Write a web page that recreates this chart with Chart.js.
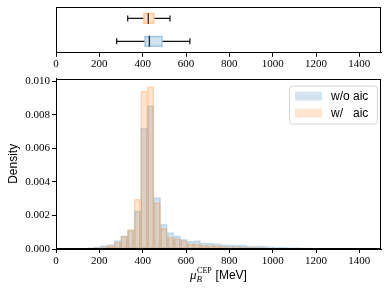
<!DOCTYPE html>
<html>
<head>
<meta charset="utf-8">
<script src="https://cdn.jsdelivr.net/npm/chart.js@4"></script>
<style>
  body { margin: 0; background: #fff; }
  #top { position: absolute; left: 0; top: 0; }
  #bottom { position: absolute; left: 0; top: 70px; }
</style>
</head>
<body>
<canvas id="top" width="388" height="72"></canvas>
<canvas id="bottom" width="388" height="221"></canvas>
<script>
// histogram bins (centres, MeV) and densities
var binCenters = [68.4, 99.1, 129.8, 160.5, 191.2, 221.9, 252.6, 283.3, 314.0, 344.7,
  375.4, 406.1, 436.8, 467.5, 498.2, 528.9, 559.6, 590.3, 621.0, 651.7,
  682.4, 713.1, 743.8, 774.5, 805.2, 835.9, 866.6, 897.3, 928.0, 958.7,
  989.4, 1020.1, 1050.8, 1081.5, 1112.2, 1142.9, 1173.6, 1204.3, 1235.0, 1265.7,
  1296.4, 1327.1, 1357.8, 1388.5, 1419.2, 1449.9];
var densWithout = [0.000005, 0.00001, 0.00003, 0.00008, 0.00013, 0.00021, 0.00027, 0.0005, 0.00078, 0.0011,
  0.00227, 0.00721, 0.00855, 0.00306, 0.00147, 0.00098, 0.00078, 0.00058, 0.00045, 0.0005,
  0.00037, 0.00035, 0.00033, 0.00027, 0.00025, 0.00023, 0.00023, 0.00017, 0.00017, 0.00017,
  0.00014, 0.00012, 0.0001, 0.00009, 0.00008, 0.00007, 0.00006, 0.00006, 0.00005, 0.00005,
  0.00004, 0.00004, 0.00003, 0.00003, 0.00002, 0.00002];
var densWith = [0.000003, 0.000008, 0.00002, 0.00005, 0.00008, 0.00014, 0.00021, 0.0004, 0.00077, 0.00117,
  0.00297, 0.00942, 0.00967, 0.00277, 0.00123, 0.0007, 0.00062, 0.0005, 0.00031, 0.00031,
  0.00023, 0.00021, 0.0002, 0.00016, 0.00014, 0.00014, 0.0001, 0.0001, 0.0001, 0.00008,
  0.00006, 0.00005, 0.00005, 0.00004, 0.00004, 0.00003, 0.00003, 0.00003, 0.00002, 0.00002,
  0.00002, 0.00002, 0.00001, 0.00001, 0.00001, 0.00001];
var xTicks = [0, 200, 400, 600, 800, 1000, 1200, 1400];
var yTicks = [0, 0.002, 0.004, 0.006, 0.008, 0.010];

// box plot summary (top = w/, bottom = w/o)
var boxLabels = ['w/ aic', 'w/o aic'];
var boxLow = [331, 280];
var boxQ1 = [403, 408];
var boxMed = [426, 431];
var boxQ3 = [454, 492];
var boxHigh = [526, 618];

var blueFill = 'rgba(31,119,180,0.2)', blueEdge = 'rgba(31,119,180,0.22)';
var orangeFill = 'rgba(255,127,14,0.2)', orangeEdge = 'rgba(255,127,14,0.25)';
var serif = 'Liberation Serif', sans = 'Liberation Sans';

Chart.defaults.font.family = serif;
Chart.defaults.font.size = 11;
Chart.defaults.color = '#000';

var frame = {
  id: 'frame',
  afterDatasetsDraw: function(chart) {
    var a = chart.chartArea, c = chart.ctx;
    c.save();
    c.strokeStyle = '#000';
    c.lineWidth = 1;
    c.strokeRect(Math.round(a.left) + 0.5, Math.round(a.top) + 0.5,
      Math.round(a.right - a.left) - 1, Math.round(a.bottom - a.top) - 1);
    c.restore();
  }
};

function setTicks(list) {
  return function(scale) { scale.ticks = list.map(function(v) { return {value: v}; }); };
}
function plain(v) { return String(v); }

// ---- top: box plots ----
var topSets = [{
  type: 'bar',
  data: boxQ1.map(function(q, i) { return [q, boxQ3[i]]; }),
  backgroundColor: [orangeFill, blueFill],
  borderColor: ['rgba(255,127,14,0.35)', 'rgba(31,119,180,0.35)'],
  borderWidth: 1,
  borderSkipped: false,
  barThickness: 11
}];
boxLabels.forEach(function(lab, i) {
  var whisk = {
    type: 'line', borderColor: '#111', borderWidth: 1.2,
    pointStyle: 'line', pointRotation: 90, pointBorderColor: '#111',
    pointBorderWidth: 1.2, pointRadius: [3, 0]
  };
  topSets.push(Object.assign({}, whisk, {data: [{x: boxLow[i], y: lab}, {x: boxQ1[i], y: lab}]}));
  topSets.push(Object.assign({}, whisk, {data: [{x: boxHigh[i], y: lab}, {x: boxQ3[i], y: lab}]}));
  topSets.push({
    type: 'line', showLine: false, data: [{x: boxMed[i], y: lab}],
    pointStyle: 'line', pointRotation: 90, pointRadius: 5.5,
    pointBorderColor: '#222', pointBorderWidth: 1.4
  });
});

new Chart(document.getElementById('top'), {
  type: 'bar',
  data: {labels: boxLabels, datasets: topSets},
  options: {
    responsive: false, animation: false, indexAxis: 'y',
    layout: {padding: {left: 56, right: 7, top: 6, bottom: 0}},
    plugins: {legend: {display: false}, tooltip: {enabled: false}},
    scales: {
      x: {
        type: 'linear', min: 0, max: 1500, offset: false,
        afterBuildTicks: setTicks(xTicks),
        grid: {drawOnChartArea: false, tickLength: 4, color: '#000'},
        border: {color: '#000'},
        ticks: {padding: 1, maxRotation: 0, callback: plain}
      },
      y: {display: false}
    }
  },
  plugins: [frame]
});

// ---- bottom: histograms ----
var legendBox = {
  id: 'legendBox',
  afterDatasetsDraw: function(chart) {
    var a = chart.chartArea, c = chart.ctx;
    var w = 88, h = 38, x = a.right - 4 - w, y = a.top + 7;
    c.save();
    c.fillStyle = 'rgba(255,255,255,0.8)';
    c.strokeStyle = '#d6d6d6';
    c.lineWidth = 1;
    c.beginPath();
    c.roundRect(x + 0.5, y + 0.5, w, h, 3);
    c.fill();
    c.stroke();
    var rows = [chart.data.datasets[0], chart.data.datasets[1]];
    rows.forEach(function(ds, i) {
      var ry = y + 10 + i * 17;
      c.fillStyle = ds.backgroundColor;
      c.fillRect(x + 6, ry - 4, 27, 9);
      c.fillStyle = '#000';
      c.font = '12px ' + sans;
      c.textBaseline = 'middle';
      c.fillText(ds.label, x + 42, ry + 1);
    });
    c.restore();
  }
};

var xTitle = {
  id: 'xTitle',
  afterDraw: function(chart) {
    var a = chart.chartArea, c = chart.ctx;
    var base = a.bottom + 30;
    c.save();
    c.fillStyle = '#000';
    c.textBaseline = 'alphabetic';
    c.font = 'italic 13px ' + serif;
    var wMu = c.measureText('\u03bc').width;
    c.font = '8px ' + serif;
    var wSup = c.measureText('CEP').width;
    c.font = '12px ' + sans;
    var wRest = c.measureText(' [MeV]').width;
    var x = (a.left + a.right) / 2 - (wMu + wSup + 1 + wRest) / 2;
    c.font = 'italic 13px ' + serif;
    c.fillText('\u03bc', x, base);
    c.font = 'italic 9px ' + serif;
    c.fillText('B', x + wMu, base + 3);
    c.font = '8px ' + serif;
    c.fillText('CEP', x + wMu + 0.5, base - 6);
    c.font = '12px ' + sans;
    c.fillText(' [MeV]', x + wMu + wSup + 1, base);
    c.restore();
  }
};

new Chart(document.getElementById('bottom'), {
  type: 'bar',
  data: {
    datasets: [{
      label: 'w/o aic',
      data: binCenters.map(function(c, i) { return {x: c, y: densWithout[i]}; }),
      backgroundColor: blueFill, borderColor: blueEdge, borderWidth: 1,
      borderSkipped: false, order: 2
    }, {
      label: 'w/   aic',
      data: binCenters.map(function(c, i) { return {x: c, y: densWith[i]}; }),
      backgroundColor: orangeFill, borderColor: orangeEdge, borderWidth: 1,
      borderSkipped: false, order: 1
    }]
  },
  options: {
    responsive: false, animation: false,
    grouped: false, barPercentage: 1, categoryPercentage: 1,
    layout: {padding: {left: 0, right: 7, top: 2, bottom: 0}},
    plugins: {legend: {display: false}, tooltip: {enabled: false}},
    scales: {
      x: {
        type: 'linear', min: 0, max: 1500, offset: false,
        afterBuildTicks: setTicks(xTicks),
        afterFit: function(s) { s.height = 42; },
        grid: {drawOnChartArea: false, tickLength: 4, color: '#000', offset: false},
        border: {color: '#000'},
        ticks: {padding: 2, maxRotation: 0, callback: plain}
      },
      y: {
        min: 0, max: 0.01015,
        afterBuildTicks: setTicks(yTicks),
        afterFit: function(s) { s.width = 56; },
        grid: {drawOnChartArea: false, tickLength: 4, color: '#000'},
        border: {color: '#000'},
        ticks: {padding: 2, callback: function(v) { return v.toFixed(3); }},
        title: {display: true, text: 'Density', font: {family: sans, size: 12}, padding: {top: 6}}
      }
    }
  },
  plugins: [frame, legendBox, xTitle]
});
</script>
</body>
</html>
